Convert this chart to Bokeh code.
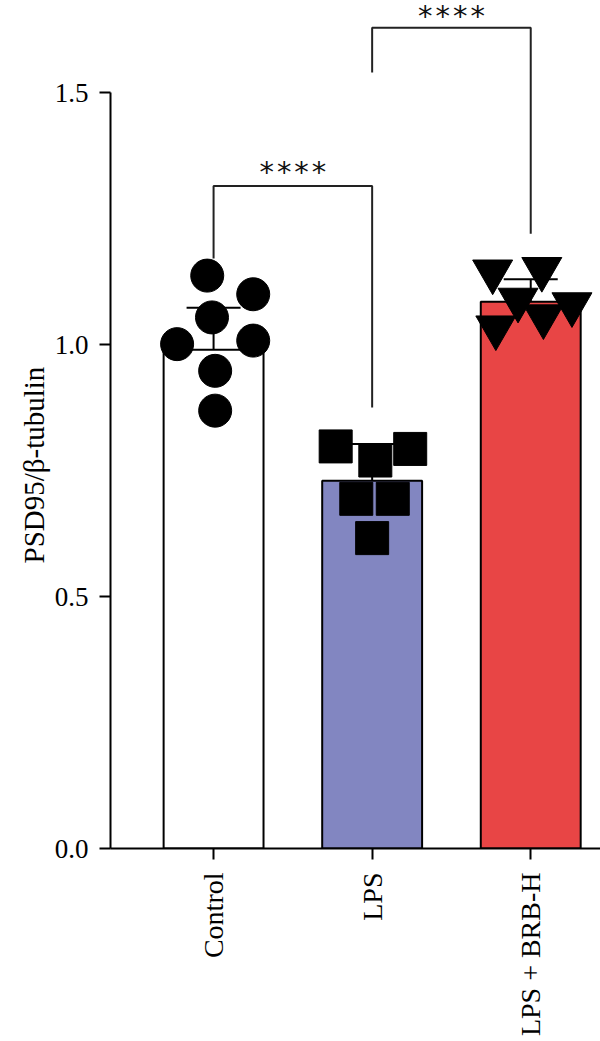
import math
from bokeh.plotting import figure
from bokeh.models import (ColumnDataSource, Range1d, FixedTicker, Whisker, TeeHead,
                          NumeralTickFormatter, Title, LinearAxis)
from bokeh.core.properties import value
from bokeh.embed import file_html
from bokeh.resources import INLINE

# ---- data ----
categories = ["Control", "LPS", "LPS + BRB-H"]
means = [0.99, 0.73, 1.085]
sds = [0.083, 0.073, 0.045]
bar_colors = ["#FFFFFF", "#8286C1", "#E84545"]

control_vals = [1.137, 1.100, 1.054, 1.001, 1.008, 0.948, 0.869]
control_jitter = [-0.04, 0.25, -0.01, -0.23, 0.25, 0.01, 0.01]
lps_vals = [0.798, 0.793, 0.770, 0.694, 0.694, 0.616]
lps_jitter = [-0.23, 0.24, 0.02, -0.10, 0.13, 0.0]
brb_vals = [1.145, 1.150, 1.089, 1.080, 1.034, 1.056]
brb_jitter = [-0.24, 0.07, -0.08, 0.26, -0.22, 0.08]

sig_pairs = [(0, 1), (1, 2)]
sig_y = [1.315, 1.629]
sig_left_bottom = [1.171, 1.540]
sig_right_bottom = [0.875, 1.220]
sig_labels = ["****", "****"]

y_ticks = [0.0, 0.5, 1.0, 1.5]
y_title = "PSD95/β-tubulin"

# ---- figure ----
p = figure(width=600, height=1041, output_backend="svg", toolbar_location=None,
           x_range=Range1d(-0.65, 2.44), y_range=Range1d(0, 1.683),
           min_border_left=110, min_border_right=0, min_border_top=0,
           min_border_bottom=193)
p.outline_line_color = None
p.xgrid.visible = False
p.ygrid.visible = False
p.background_fill_color = "white"
p.border_fill_color = "white"

xs = list(range(len(categories)))
bars = ColumnDataSource(dict(x=xs, top=means, color=bar_colors,
                             upper=[m + s for m, s in zip(means, sds)],
                             lower=[m - s for m, s in zip(means, sds)]))
p.vbar(x="x", top="top", width=0.63, bottom=0, fill_color="color",
       line_color="black", line_width=2, source=bars)

w = Whisker(base="x", upper="upper", lower="lower", source=bars,
            line_color="black", line_width=2,
            upper_head=TeeHead(size=54, line_width=2, line_color="black"),
            lower_head=TeeHead(size=54, line_width=2, line_color="black"))
p.add_layout(w)

p.scatter(x=[0 + j for j in control_jitter], y=control_vals, marker="circle",
          size=33, fill_color="black", line_color="black")
p.scatter(x=[1 + j for j in lps_jitter], y=lps_vals, marker="square",
          size=33, fill_color="black", line_color="black")
p.scatter(x=[2 + j for j in brb_jitter], y=brb_vals, marker="inverted_triangle",
          size=40, fill_color="black", line_color="black")

# significance brackets
bx, by, tx, ty = [], [], [], []
for (a, b), yy, lb, rb in zip(sig_pairs, sig_y, sig_left_bottom, sig_right_bottom):
    bx.append([a, a, b, b])
    by.append([lb, yy, yy, rb])
    tx.append((a + b) / 2)
    ty.append(yy)
p.multi_line(xs=bx, ys=by, line_color="#222222", line_width=2)
sig_src = ColumnDataSource(dict(x=tx, y=ty, text=sig_labels, dy=[-31, -29]))
p.text(x="x", y="y", text="text", y_offset="dy", source=sig_src,
       text_align="center", text_baseline="top",
       text_font=value("DejaVu Sans Mono"), text_font_size="29px",
       text_color="#111111")

# axes
yax = p.yaxis[0]
xax = p.xaxis[0]
yax.bounds = (0, 1.5)
yax.ticker = FixedTicker(ticks=y_ticks)
yax.formatter = NumeralTickFormatter(format="0.0")
yax.major_label_text_font = "Liberation Serif"
yax.major_label_text_font_size = "27px"
yax.major_label_standoff = 11

xax.ticker = FixedTicker(ticks=xs)
xax.major_label_overrides = {i: c for i, c in enumerate(categories)}
xax.major_label_orientation = math.pi / 2
xax.major_label_text_font = "Liberation Serif"
xax.major_label_text_font_size = "28px"
xax.major_label_standoff = 13

for ax in (xax, yax):
    ax.axis_line_width = 2
    ax.axis_line_color = "black"
    ax.major_tick_line_width = 2
    ax.major_tick_line_color = "black"
    ax.major_tick_out = 11
    ax.major_tick_in = 0
    ax.minor_tick_line_color = None
    ax.major_label_text_color = "black"

# empty spacer between the axis and its title
spacer = LinearAxis(ticker=FixedTicker(ticks=[]), axis_line_color=None,
                    major_tick_line_color=None, minor_tick_line_color=None,
                    major_tick_out=18, major_tick_in=0, minor_tick_out=0,
                    major_label_standoff=0)
p.add_layout(spacer, "left")

t = Title(text=y_title, align="left", offset=285, standoff=0, vertical_align="top",
          text_font="Liberation Serif", text_font_style="normal",
          text_font_size="29px", text_color="black")
p.add_layout(t, "left")

open("out.html", "w").write(file_html(p, INLINE))
